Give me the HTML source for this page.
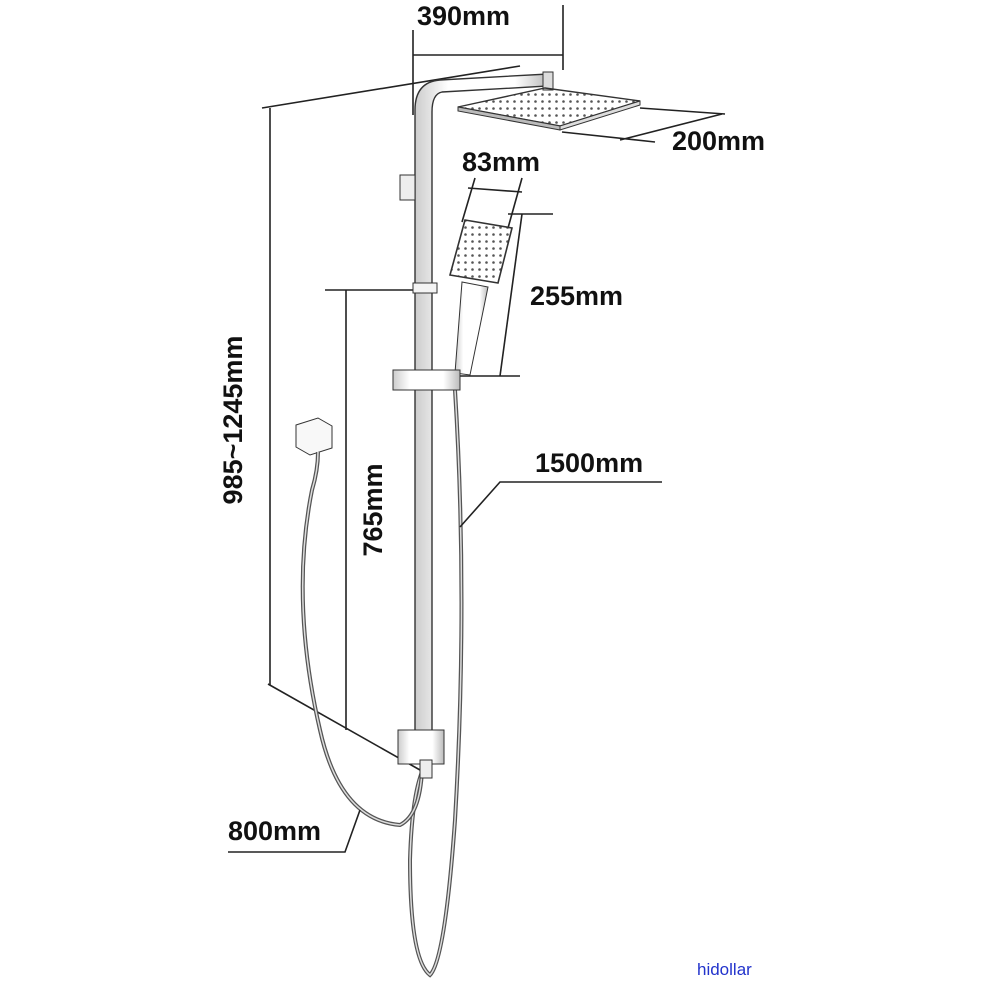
<!DOCTYPE html>
<html><head><meta charset="utf-8"><style>
html,body{margin:0;padding:0;background:#fff;width:1000px;height:1000px;overflow:hidden}
svg{display:block}
.t{font-family:"Liberation Sans",sans-serif;font-weight:bold;font-size:27px;fill:#111}
.l{stroke:#222;stroke-width:1.6;fill:none}
</style></head><body>
<svg width="1000" height="1000" viewBox="0 0 1000 1000" xmlns="http://www.w3.org/2000/svg">
<defs>
<linearGradient id="chrome" x1="0" x2="1" y1="0" y2="0">
<stop offset="0" stop-color="#ccc"/><stop offset="0.25" stop-color="#fff"/><stop offset="0.75" stop-color="#fff"/><stop offset="1" stop-color="#bbb"/>
</linearGradient>
<pattern id="dots" width="7" height="7" patternUnits="userSpaceOnUse"><circle cx="3.5" cy="3.5" r="1.3" fill="#555"/></pattern>
</defs>
<text class="t" x="417" y="25">390mm</text>
<line class="l" x1="413" y1="30" x2="413" y2="115"/>
<line class="l" x1="563" y1="5" x2="563" y2="70"/>
<line class="l" x1="413" y1="55" x2="563" y2="55"/>
<line class="l" x1="262" y1="108" x2="520" y2="66"/>
<line class="l" x1="270" y1="108" x2="270" y2="685"/>
<line class="l" x1="268" y1="684" x2="420" y2="770"/>
<text class="t" transform="translate(242,420) rotate(-90)" text-anchor="middle">985~1245mm</text>
<line class="l" x1="325" y1="290" x2="415" y2="290"/>
<line class="l" x1="346" y1="290" x2="346" y2="730"/>
<text class="t" transform="translate(382,510) rotate(-90)" text-anchor="middle">765mm</text>
<path d="M415 740 L415 110 Q415 82 440 80 L548 74 L548 86 L442 92 Q432 94 432 112 L432 740 Z" fill="url(#chrome)" stroke="#333" stroke-width="1.4"/>
<rect x="400" y="175" width="15" height="25" fill="#eee" stroke="#333"/>
<rect x="543" y="72" width="10" height="18" fill="#ddd" stroke="#333"/>
<polygon points="458,107 545,88 640,101 560,126" fill="url(#dots)" stroke="#333" stroke-width="1.4"/>
<polygon points="458,107 560,126 560,130 458,111" fill="#bbb" stroke="#333"/>
<polygon points="560,126 640,101 640,105 560,130" fill="#ddd" stroke="#333"/>
<line class="l" x1="640" y1="108" x2="725" y2="114"/>
<line class="l" x1="562" y1="132" x2="655" y2="142"/>
<line class="l" x1="722" y1="114" x2="620" y2="140"/>
<text class="t" x="672" y="150">200mm</text>
<text class="t" x="462" y="171">83mm</text>
<line class="l" x1="462" y1="222" x2="475" y2="178"/>
<line class="l" x1="508" y1="228" x2="522" y2="178"/>
<line class="l" x1="468" y1="188" x2="522" y2="192"/>
<polygon points="465,220 512,228 498,283 450,275" fill="url(#dots)" stroke="#333" stroke-width="1.6"/>
<polygon points="462,282 488,287 470,375 455,373" fill="url(#chrome)" stroke="#333"/>
<line class="l" x1="508" y1="214" x2="553" y2="214"/>
<line class="l" x1="460" y1="376" x2="520" y2="376"/>
<line class="l" x1="522" y1="214" x2="500" y2="376"/>
<text class="t" x="530" y="305">255mm</text>
<path d="M455 390 Q468 600 455 820 Q445 960 430 975 Q410 960 410 860 Q412 790 425 765" fill="none" stroke="#555" stroke-width="4"/>
<path d="M455 390 Q468 600 455 820 Q445 960 430 975 Q410 960 410 860 Q412 790 425 765" fill="none" stroke="#ddd" stroke-width="1.5"/>
<rect x="393" y="370" width="67" height="20" fill="url(#chrome)" stroke="#333"/>
<rect x="413" y="283" width="24" height="10" fill="#f4f4f4" stroke="#333"/>
<polyline class="l" points="460,527 500,482 662,482"/>
<text class="t" x="535" y="472">1500mm</text>
<polygon points="296,425 318,418 332,426 332,448 310,455 296,447" fill="#f8f8f8" stroke="#333"/>
<path d="M318 452 Q318 470 312 490 Q290 600 320 730 Q340 820 400 825 Q420 815 422 770" fill="none" stroke="#555" stroke-width="4"/>
<path d="M318 452 Q318 470 312 490 Q290 600 320 730 Q340 820 400 825 Q420 815 422 770" fill="none" stroke="#ddd" stroke-width="1.5"/>
<rect x="398" y="730" width="46" height="34" fill="url(#chrome)" stroke="#333"/>
<rect x="420" y="760" width="12" height="18" fill="#eee" stroke="#333"/>
<polyline class="l" points="228,852 345,852 360,810"/>
<text class="t" x="228" y="840">800mm</text>
<text x="697" y="975" font-family="Liberation Sans,sans-serif" font-size="17" fill="#2233cc">hidollar</text>
</svg>
</body></html>
